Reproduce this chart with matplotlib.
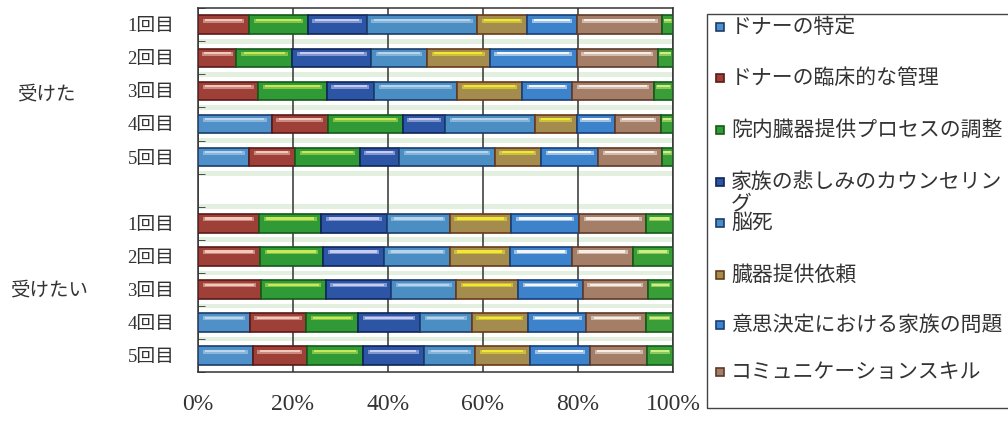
import numpy as np
import matplotlib.pyplot as plt
from matplotlib.patches import Rectangle

plt.rcParams['font.family'] = ['Noto Sans CJK JP', 'DejaVu Sans']

# rows: 受けた 1-5回目, (blank), 受けたい 1-5回目
row_labels = ['1回目', '2回目', '3回目', '4回目', '5回目', '',
              '1回目', '2回目', '3回目', '4回目', '5回目']
groups = ['受けた', '受けたい']

items = ['ドナーの特定', 'ドナーの臨床的な管理', '院内臓器提供プロセスの調整',
         '家族の悲しみのカウンセリン\nグ', '脳死', '臓器提供依頼',
         '意思決定における家族の問題', 'コミュニケーションスキル', 'その他']

# percent per row (blank row = None)
shares = [
    [0.0, 10.7, 12.4, 12.4, 23.3, 10.5, 10.5, 18.0, 2.2],
    [0.0, 8.1, 11.8, 16.6, 11.7, 13.2, 18.3, 17.1, 3.2],
    [0.0, 12.7, 14.4, 10.0, 17.4, 13.7, 10.5, 17.3, 4.0],
    [15.5, 11.9, 15.8, 8.8, 18.9, 8.8, 8.1, 9.7, 2.5],
    [10.8, 9.6, 13.7, 8.3, 20.1, 9.7, 12.1, 13.3, 2.4],
    None,
    [0.0, 12.9, 13.1, 13.7, 13.3, 13.0, 14.2, 14.2, 5.6],
    [0.0, 13.1, 13.2, 12.8, 13.9, 12.6, 13.1, 12.8, 8.5],
    [0.0, 13.2, 13.7, 13.8, 13.7, 13.0, 13.6, 13.8, 5.2],
    [10.9, 11.9, 10.9, 13.0, 10.9, 11.9, 12.3, 12.5, 5.7],
    [11.5, 11.5, 11.7, 12.8, 10.9, 11.6, 12.5, 12.1, 5.4],
]

base_cols = ['#5090c8', '#9e4038', '#2f9a36', '#2d55a5', '#4a8ec4',
             '#a38c4e', '#3d83cc', '#a47e66', '#3a9e38']
edge_cols = ['#1c3c6a', '#5a1a18', '#145a1a', '#0f2558', '#1c3c6a',
             '#6a3a18', '#173f78', '#5e3a2a', '#145a1a']
hi_cols = ['#bcd6ee', '#f0c8bc', '#c8e85a', '#c8cdf0', '#b8d4ec',
           '#f2e832', '#f4f6fa', '#f6eee6', '#d0ee80']

fig = plt.figure(figsize=(10.08, 4.21), dpi=100)
ax = fig.add_axes([0.1964, 0.116, 0.4712, 0.8646])

y = np.arange(len(row_labels))
bar_h = 0.56

# pale stripes between rows
for yy in np.arange(0.5, len(row_labels) - 1, 1.0):
    ax.axhspan(yy - 0.07, yy + 0.07, color='#e4f0df', zorder=0, lw=0)

for i, row in enumerate(shares):
    if row is None:
        continue
    left = 0.0
    for k, w in enumerate(row):
        if w <= 0:
            continue
        ax.barh(y[i], w, left=left, height=bar_h, color=base_cols[k],
                edgecolor=edge_cols[k], linewidth=1.2, zorder=3)
        # glossy highlight along the top of each segment
        inset = min(1.0, w * 0.1)
        ax.barh(y[i] - bar_h * 0.22, w - 2 * inset, left=left + inset,
                height=bar_h * 0.22, color=hi_cols[k], alpha=0.55,
                linewidth=0, zorder=4)
        ax.barh(y[i] - bar_h * 0.26, w - 3 * inset, left=left + 1.5 * inset,
                height=bar_h * 0.12, color=hi_cols[k], linewidth=0, zorder=4)
        left += w

ax.set_xlim(0, 100)
ax.set_ylim(10.5, -0.5)
ax.set_xticks(np.arange(0, 101, 20))
ax.set_xticklabels([f'{v}%' for v in range(0, 101, 20)],
                   family=['Liberation Serif', 'Noto Sans CJK JP'], fontsize=17)
ax.tick_params(axis='x', length=0, pad=16, colors='#333333')
ax.xaxis.grid(True, color='#333333', linewidth=1.1, zorder=1)
ax.set_axisbelow(True)

ax.set_yticks(y)
ax.set_yticklabels(row_labels, family=['Liberation Serif', 'Noto Sans CJK JP'],
                   fontsize=13.5, color='#333333')
ax.tick_params(axis='y', length=0, pad=17)
ax.set_yticks(np.arange(-0.5, 10.6, 1.0), minor=True)
ax.tick_params(axis='y', which='minor', length=5, direction='in',
               color='#333333')
for s in ax.spines.values():
    s.set_color('#333333')
    s.set_linewidth(1.1)

# group labels
fig.text(46 / 1008, 1 - 94 / 421, groups[0], fontsize=14, ha='center',
         va='center', color='#333333')
fig.text(49 / 1008, 1 - 290 / 421, groups[1], fontsize=14, ha='center',
         va='center', color='#333333')

# legend box drawn by hand
lx0, ly_top, ly_bot = 707 / 1008, 1 - 14 / 421, 1 - 408 / 421
fig.patches.append(Rectangle((lx0, ly_bot), 1.0 - lx0 + 0.01, ly_top - ly_bot,
                             transform=fig.transFigure, fill=False,
                             edgecolor='#444444', linewidth=1.0))
leg_y = [27, 78, 130, 182, 223, 275, 325, 372]
for k, (lab, yy) in enumerate(zip(items[:8], leg_y)):
    yf = 1 - yy / 421
    fig.patches.append(Rectangle((716 / 1008, yf - 4 / 421), 8 / 1008, 8 / 421,
                                 transform=fig.transFigure,
                                 facecolor=base_cols[k], edgecolor=edge_cols[k],
                                 linewidth=1.2))
    va = 'top' if '\n' in lab else 'center'
    yt = yf + 11 / 421 if '\n' in lab else yf
    fig.text(731 / 1008, yt, lab, fontsize=15, va=va, ha='left',
             color='#333333', linespacing=0.95)

fig.savefig('out.png', dpi=100)
